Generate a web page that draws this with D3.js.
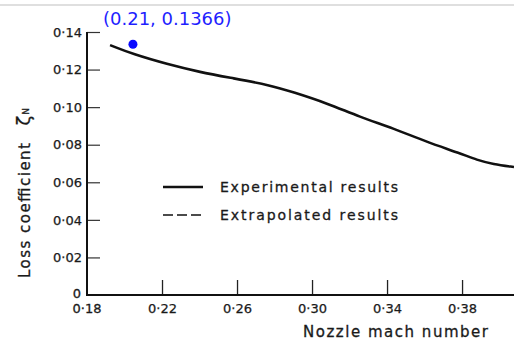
<!DOCTYPE html>
<html>
<head>
<meta charset="utf-8">
<script src="https://cdn.jsdelivr.net/npm/d3@7"></script>
<style>
  body { margin: 0; background: #fff; }
  svg { display: block; }
  .tick text { font-family: "DejaVu Sans", sans-serif; font-size: 13px; fill: #1a1a1a; stroke: #1a1a1a; stroke-width: 0.25px; }
  .title { font-family: "DejaVu Sans", sans-serif; fill: #1a1a1a; stroke: #1a1a1a; stroke-width: 0.3px; }
</style>
</head>
<body>
<script>
var machNumber = [0.1923, 0.2045, 0.2227, 0.2403, 0.2579, 0.2776, 0.2899, 0.3080, 0.3256, 0.3432, 0.3613, 0.3789, 0.3880, 0.3965, 0.4077];
var lossCoeff  = [0.1330, 0.1282, 0.1229, 0.1186, 0.1154, 0.1117, 0.1080, 0.1021, 0.0947, 0.0888, 0.0814, 0.0755, 0.0718, 0.0697, 0.0681];

var xTicks = [0.22, 0.26, 0.30, 0.34, 0.38];
var yTicks = [0.02, 0.04, 0.06, 0.08, 0.10, 0.12, 0.14];
var xTickLabels = ["0·22", "0·26", "0·30", "0·34", "0·38"];
var yTickLabels = ["0·02", "0·04", "0·06", "0·08", "0·10", "0·12", "0·14"];

var marker = [0.2045, 0.1335];
var markerLabel = "(0.21, 0.1366)";

var legendNames = ["Experimental results", "Extrapolated results"];

var width = 514, height = 342;

var x = d3.scaleLinear().domain([0.18, 0.4077]).range([87, 514]);
var y = d3.scaleLinear().domain([0, 0.14]).range([295, 32]);

var svg = d3.select("body").append("svg")
    .attr("width", width)
    .attr("height", height);

// thin grey rule along the top
svg.append("line")
    .attr("x1", 0).attr("x2", width)
    .attr("y1", 5).attr("y2", 5)
    .style("stroke", "#d4d4d4")
    .style("stroke-width", 1.5);

var xAxis = d3.axisBottom(x)
    .tickValues(xTicks)
    .tickSize(-15)
    .tickFormat(function(d, i) { return xTickLabels[i]; });

var yAxis = d3.axisLeft(y)
    .tickValues(yTicks)
    .tickSize(-13)
    .tickFormat(function(d, i) { return yTickLabels[i]; });

var gx = svg.append("g")
    .attr("class", "x axis")
    .attr("transform", "translate(0," + y(0) + ")")
    .call(xAxis);
gx.select(".domain").remove();
gx.selectAll(".tick line").style("stroke", "#222").style("stroke-width", 1.3);
gx.selectAll(".tick text").attr("y", 9).attr("dy", ".71em");

var gy = svg.append("g")
    .attr("class", "y axis")
    .attr("transform", "translate(" + x(0.18) + ",0)")
    .call(yAxis);
gy.select(".domain").remove();
gy.selectAll(".tick line").style("stroke", "#333").style("stroke-width", 1.2);
gy.selectAll(".tick text").attr("x", -5);

// axis lines
svg.append("line")
    .attr("x1", x(0.18)).attr("x2", width)
    .attr("y1", y(0)).attr("y2", y(0))
    .style("stroke", "#111").style("stroke-width", 2);
svg.append("line")
    .attr("x1", x(0.18)).attr("x2", x(0.18))
    .attr("y1", y(0) + 1).attr("y2", y(0.14))
    .style("stroke", "#111").style("stroke-width", 2);

// zero labels at the corner
svg.append("text")
    .attr("class", "title")
    .attr("x", x(0.18) - 6).attr("y", y(0) + 3)
    .attr("text-anchor", "end")
    .style("font-size", "13px")
    .text("0");
svg.append("text")
    .attr("class", "title")
    .attr("x", x(0.18)).attr("y", y(0) + 18)
    .attr("text-anchor", "middle")
    .style("font-size", "13px")
    .text("0·18");

// the curve
var data = machNumber.map(function(d, i) { return {m: d, z: lossCoeff[i]}; });
var line = d3.line()
    .x(function(d) { return x(d.m); })
    .y(function(d) { return y(d.z); })
    .curve(d3.curveBasis);

svg.append("path")
    .datum(data)
    .attr("d", line)
    .style("fill", "none")
    .style("stroke", "#111")
    .style("stroke-width", 2.6);

// legend
var legend = svg.append("g").attr("transform", "translate(163,187)");
legendNames.forEach(function(name, i) {
  legend.append("line")
      .attr("x1", 0).attr("x2", 40)
      .attr("y1", i * 28).attr("y2", i * 28)
      .style("stroke", "#111")
      .style("stroke-width", i == 0 ? 2.6 : 1.7)
      .style("stroke-dasharray", i == 0 ? null : "10,4");
  legend.append("text")
      .attr("class", "title")
      .attr("x", 57).attr("y", i * 28 + 5)
      .attr("textLength", 178)
      .attr("lengthAdjust", "spacing")
      .style("font-size", "14px")
      .text(name);
});

// axis titles
svg.append("text")
    .attr("class", "title")
    .attr("x", 303).attr("y", 337)
    .attr("textLength", 185)
    .attr("lengthAdjust", "spacing")
    .style("font-size", "15px")
    .text("Nozzle mach number");

var ytitle = svg.append("text")
    .attr("class", "title")
    .attr("transform", "translate(30,278) rotate(-90)")
    .style("font-size", "15px");
ytitle.append("tspan")
    .attr("textLength", 135)
    .attr("lengthAdjust", "spacing")
    .text("Loss coefficient");
ytitle.append("tspan")
    .attr("dx", 16)
    .style("font-size", "18px")
    .text("ζ");
ytitle.append("tspan")
    .attr("dy", -1)
    .attr("dx", 1)
    .style("font-size", "9px")
    .text("N");

// highlighted point
svg.append("circle")
    .attr("cx", x(marker[0]))
    .attr("cy", y(marker[1]))
    .attr("r", 4.5)
    .style("fill", "#0a0aff");

svg.append("text")
    .attr("x", 103).attr("y", 25)
    .style("font-family", "'DejaVu Sans', sans-serif")
    .style("font-size", "18px")
    .style("fill", "#1f1fff")
    .text(markerLabel);
</script>
</body>
</html>
